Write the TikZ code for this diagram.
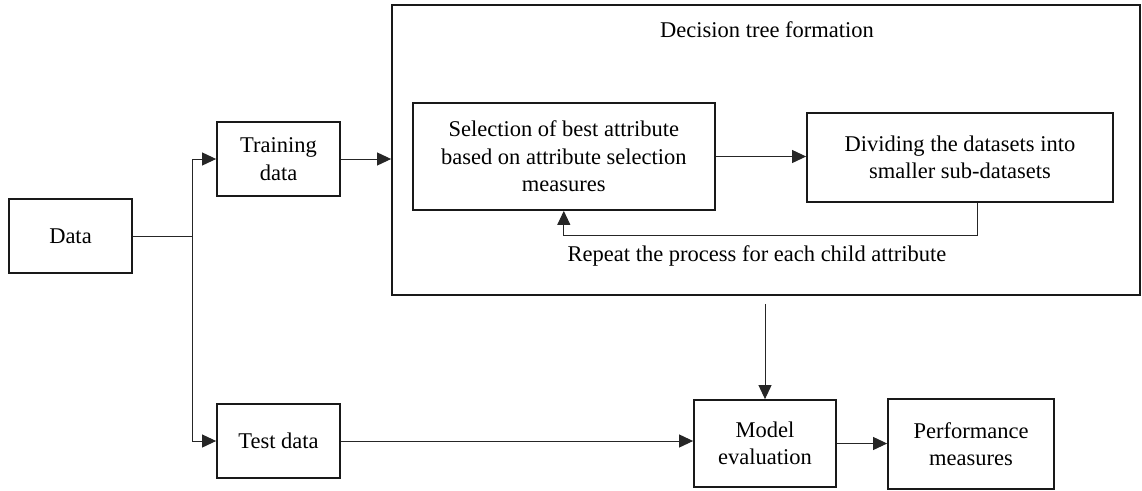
\documentclass[tikz,border=0pt]{standalone}
\usepackage{fontspec}
\setmainfont{Liberation Serif}
\usetikzlibrary{arrows.meta}
\begin{document}
\begin{tikzpicture}[x=1pt,y=-1pt,
  font=\fontsize{22.5}{27.5}\selectfont,
  box/.style={draw=black!90, line width=1.8pt, text=black, align=center, inner sep=2pt},
  frame/.style={draw=black!90, line width=1.8pt},
  link/.style={draw=black!85, line width=1pt},
  arr/.style={link, -{Triangle[length=14pt,width=13pt]}},
  lbl/.style={text=black}]
\useasboundingbox (0,0) rectangle (1142,490);

% outer frame for the tree-building stage
\node[frame, minimum width=748pt, minimum height=290pt] (big) at (766,150) {};
\node[lbl] (title) at (767,30) {Decision tree formation};

% boxes
\node[box, minimum width=123pt, minimum height=74pt] (data) at (70.5,236) {Data};
\node[box, minimum width=123pt, minimum height=74pt] (train) at (278.5,159) {Training\\data};
\node[box, minimum width=123pt, minimum height=74pt] (test) at (278.5,441) {Test data};
\node[box, minimum width=302pt, minimum height=107pt] (sel) at (563.8,156.5)
  {Selection of best attribute\\based on attribute selection\\measures};
\node[box, minimum width=306pt, minimum height=89pt] (div) at (960,157.5)
  {Dividing the datasets into\\smaller sub-datasets};
\node[box, minimum width=142pt, minimum height=87pt] (model) at (765,443.5) {Model\\evaluation};
\node[box, minimum width=166pt, minimum height=90pt] (perf) at (971,444) {Performance\\measures};
\node[lbl] (repeat) at (757,256) {Repeat the process for each child attribute};

% connectors
\coordinate (split) at (192,236);
\coordinate (loop) at (977.7,235);
\draw[link] (data.east) -- (split);
\draw[arr] (split) |- (train.west);
\draw[arr] (split) |- (test.west);
\draw[arr] (train.east) -- (train.east -| big.west);
\draw[arr] (sel.east) -- (sel.east -| div.west);
\draw[arr] (div.south -| loop) -- (loop) -| (sel.south);
\draw[arr, shorten <=8pt] (big.south -| model.north) -- (model.north);
\draw[arr] (test.east) -- (test.east -| model.west);
\draw[arr] (model.east) -- (model.east -| perf.west);
\end{tikzpicture}
\end{document}
